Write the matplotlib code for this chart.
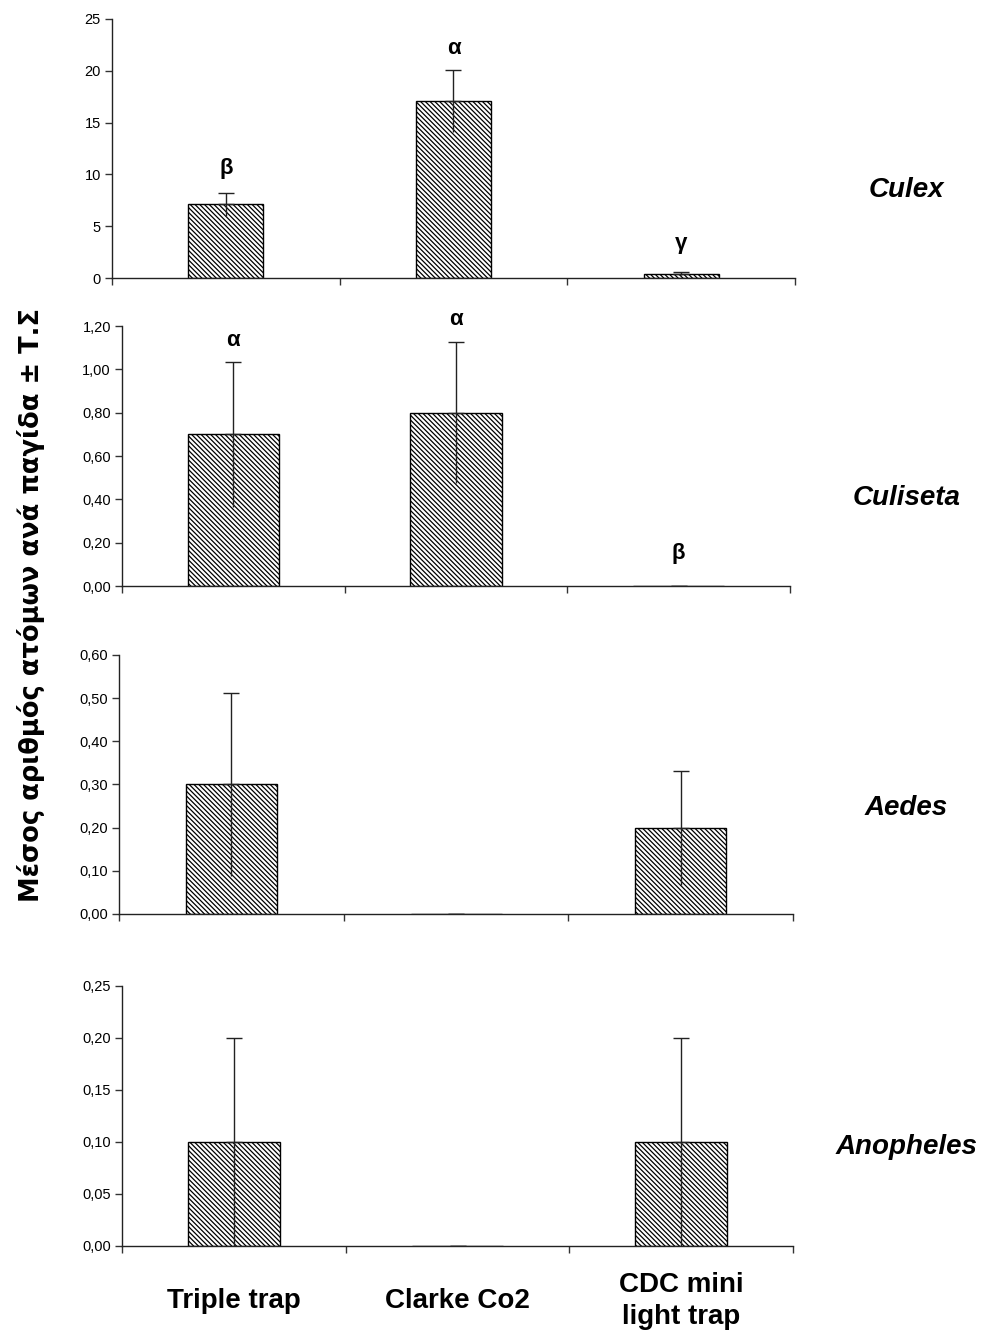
import numpy as np
import matplotlib.pyplot as plt
from matplotlib.ticker import FuncFormatter

# traps (x categories)
traps = ['Triple trap', 'Clarke Co2', 'CDC mini\nlight trap']
genera = ['Culex', 'Culiseta', 'Aedes', 'Anopheles']

# mean number per trap and standard error, per genus
culex_mean = [7.1, 17.1, 0.4]
culex_se = [1.1, 3.0, 0.15]
culiseta_mean = [0.70, 0.80, 0.0]
culiseta_se = [0.335, 0.325, 0.0]
aedes_mean = [0.30, 0.0, 0.20]
aedes_se = [0.213, 0.0, 0.132]
anopheles_mean = [0.10, 0.0, 0.10]
anopheles_se = [0.10, 0.0, 0.10]

# significance letters (trap index, y position, letter)
culex_letters = [(0, 10.6, 'β'), (1, 22.2, 'α'), (2, 3.3, 'γ')]
culiseta_letters = [(0, 1.135, 'α'), (1, 1.23, 'α'), (2, 0.15, 'β')]

y_max = [25, 1.2, 0.6, 0.25]
y_step = [5, 0.2, 0.1, 0.05]
y_dec = [0, 2, 2, 2]

means = [culex_mean, culiseta_mean, aedes_mean, anopheles_mean]
errs = [culex_se, culiseta_se, aedes_se, anopheles_se]
letters = [culex_letters, culiseta_letters, [], []]

# layout (fig fractions): left, bottom, width, height ; bar width
boxes = [[0.1137, 0.7922, 0.6934, 0.1936],
         [0.1239, 0.5620, 0.6782, 0.1943],
         [0.1208, 0.3169, 0.6843, 0.1936],
         [0.1239, 0.0688, 0.6812, 0.1943]]
bar_w = [0.33, 0.41, 0.405, 0.41]
genus_y = [0.858, 0.628, 0.396, 0.143]

plt.rcParams['font.family'] = ['Liberation Sans', 'DejaVu Sans']
plt.rcParams['hatch.linewidth'] = 0.9

fig = plt.figure(figsize=(9.85, 13.38), dpi=100)

for i in range(4):
    ax = fig.add_axes(boxes[i])
    x = np.arange(len(traps))
    m = np.array(means[i])
    e = np.array(errs[i])
    ax.bar(x, m, width=bar_w[i], color='white', edgecolor='black',
           hatch='\\' * 7, linewidth=1.0, zorder=2)
    # upper error with cap, lower half without cap (Excel look)
    ax.errorbar(x, m, yerr=[np.zeros_like(e), e], fmt='none', ecolor='#222222',
                elinewidth=1.0, capsize=6, capthick=1.0, zorder=3)
    ax.vlines(x, m - e, m, color='#222222', linewidth=1.0, zorder=3)

    for (k, yy, t) in letters[i]:
        ax.text(k, yy, t, ha='center', va='center', fontsize=16,
                fontweight='bold', clip_on=False)

    ax.set_xlim(-0.5, 2.5)
    ax.set_ylim(0, y_max[i])
    ax.set_yticks(np.arange(0, y_max[i] + y_step[i] / 2, y_step[i]))
    d = y_dec[i]
    ax.yaxis.set_major_formatter(FuncFormatter(
        lambda v, p, d=d: f'{v:.{d}f}'.replace('.', ',')))
    ax.set_xticks([-0.5, 0.5, 1.5, 2.5])
    ax.set_xticklabels([])
    ax.tick_params(axis='x', direction='out', length=5, width=1, color='#333333')
    ax.tick_params(axis='y', direction='out', length=5, width=1,
                   color='#333333', labelsize=10.5, pad=3)
    for s in ['top', 'right']:
        ax.spines[s].set_visible(False)
    for s in ['left', 'bottom']:
        ax.spines[s].set_linewidth(1.0)
        ax.spines[s].set_color('#222222')

    fig.text(0.92, genus_y[i], genera[i], ha='center', va='center',
             fontsize=20, fontweight='bold', fontstyle='italic')

    if i == 3:
        for k, lab in enumerate(traps):
            ax.text(k, -0.21, lab, ha='center', va='center', fontsize=20,
                    fontweight='bold', linespacing=1.3,
                    transform=ax.get_xaxis_transform())

fig.text(0.031, 0.548, 'Μέσος αριθμός ατόμων ανά παγίδα ± Τ.Σ',
         rotation=90, ha='center', va='center', fontsize=18.5,
         fontweight='bold', family=['DejaVu Sans'])

fig.savefig('out.png', dpi=100)
